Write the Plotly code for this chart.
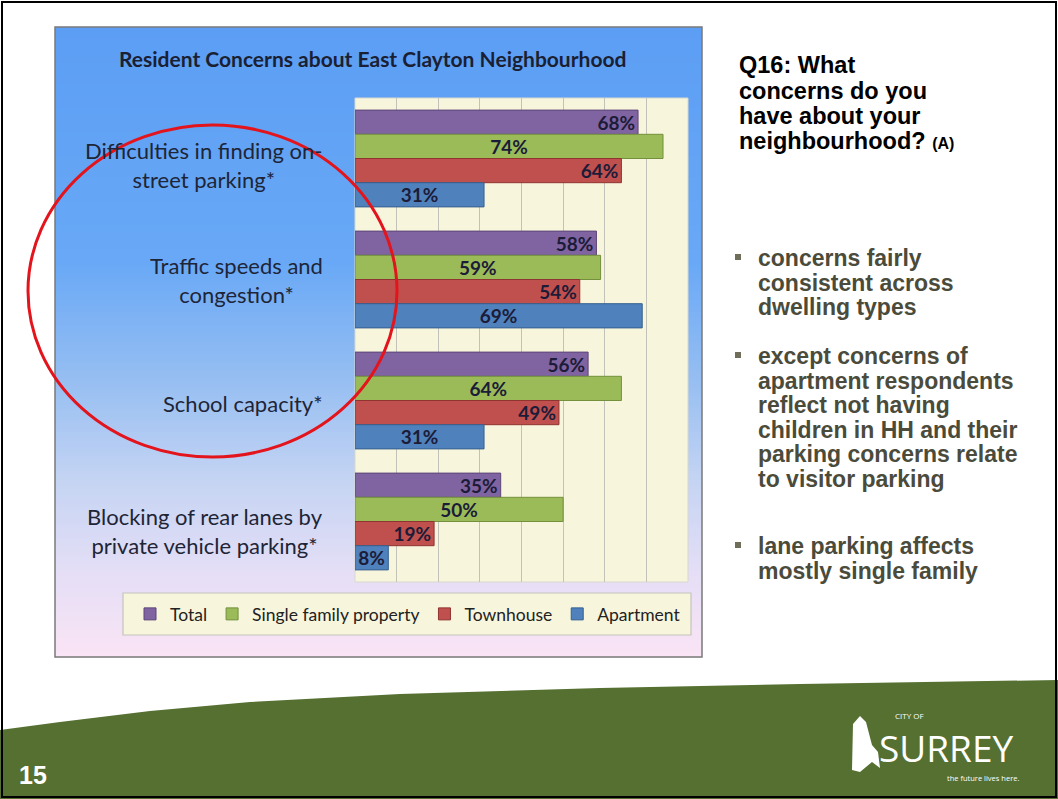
import plotly.graph_objects as go

# ---------------- data ----------------
categories = ["Difficulties in finding on-street parking*",
              "Traffic speeds and congestion*",
              "School capacity*",
              "Blocking of rear lanes by private vehicle parking*"]
category_labels = ["Difficulties in finding on-<br>street parking*",
                   "Traffic speeds and<br>congestion*",
                   "School capacity*",
                   "Blocking of rear lanes by<br>private vehicle parking*"]
series_names = ["Total", "Single family property", "Townhouse", "Apartment"]
total = [68, 58, 56, 35]
single_family = [74, 59, 64, 50]
townhouse = [64, 54, 49, 19]
apartment = [31, 69, 31, 8]
x_ticks = [0, 10, 20, 30, 40, 50, 60, 70, 80]

chart_title = "Resident Concerns about East Clayton Neighbourhood"
question_lines = ["Q16: What", "concerns do you", "have about your",
                  "neighbourhood? <span style='font-size:16px'>(A)</span>"]
bullets = [["concerns fairly", "consistent across", "dwelling types"],
           ["except concerns of", "apartment respondents", "reflect not having",
            "children in HH and their", "parking concerns relate", "to visitor parking"],
           ["lane parking affects", "mostly single family"]]
page_number = "15"

# ---------------- geometry helpers (styling only) ----------------
W, H = 1058, 799
L, R, T, B = 355, 688, 98, 582


def px(x):
    return (x - L) / (R - L)


def py(y):
    return (B - y) / (B - T)


colors = ["#8064a2", "#9bbb59", "#c0504d", "#4f81bd"]
edge = ["#5b4577", "#74903c", "#8f3431", "#36608f"]
anchors = ["end", "middle", "end", "middle"]
values = [total, single_family, townhouse, apartment]

fig = go.Figure()
for name, vals, c, e, a in zip(series_names, values, colors, edge, anchors):
    fig.add_trace(go.Bar(
        y=categories, x=vals, name=name, orientation="h",
        marker=dict(color=c, line=dict(color=e, width=1)),
        text=[f"{v}%" for v in vals], textposition="inside",
        insidetextanchor=a, constraintext="none",
        textfont=dict(family="Lato", size=19, color="#1c1c38", weight="bold"),
        hoverinfo="skip"))

shapes = []
# gradient background of the chart box
stops = [(27, (92, 158, 244)), (260, (104, 168, 246)), (380, (150, 190, 242)),
         (480, (196, 212, 243)), (570, (228, 222, 246)), (657, (250, 228, 245))]
bx0, bx1, by0, by1 = 55, 702, 27, 657


def col_at(y):
    for (y0, c0), (y1, c1) in zip(stops[:-1], stops[1:]):
        if y0 <= y <= y1:
            t = (y - y0) / (y1 - y0)
            return "rgb(%d,%d,%d)" % tuple(round(c0[i] + (c1[i] - c0[i]) * t) for i in range(3))
    return "rgb(%d,%d,%d)" % stops[-1][1]


step = 3
yy = by0
while yy < by1:
    y2 = min(yy + step, by1)
    shapes.append(dict(type="rect", xref="paper", yref="paper", layer="below",
                       x0=px(bx0), x1=px(bx1), y0=py(yy), y1=py(y2 + 0.6),
                       fillcolor=col_at(yy + step / 2), line=dict(width=0)))
    yy = y2
# box border
shapes.append(dict(type="rect", xref="paper", yref="paper", layer="below",
                   x0=px(bx0), x1=px(bx1), y0=py(by0), y1=py(by1),
                   line=dict(color="#7a7a7a", width=1.5)))
# plot area cream background
shapes.append(dict(type="rect", xref="x domain", yref="y domain", layer="below",
                   x0=0, x1=1, y0=0, y1=1, fillcolor="#f8f5dd",
                   line=dict(color="#d8d8cc", width=1)))
# legend box
shapes.append(dict(type="rect", xref="paper", yref="paper", layer="below",
                   x0=px(123), x1=px(691), y0=py(593), y1=py(635),
                   fillcolor="#f8f5dd", line=dict(color="#c4c4bc", width=1.2)))
# red ellipse
shapes.append(dict(type="circle", xref="paper", yref="paper", layer="above",
                   x0=px(28), x1=px(397), y0=py(125), y1=py(457),
                   line=dict(color="#e3141c", width=3)))
# green footer swoosh
pts = [(0, 730), (60, 722), (150, 711), (250, 702), (400, 694), (600, 688),
       (800, 684), (1058, 680), (1058, 799), (0, 799)]
path = "M " + " L ".join(f"{px(x):.5f},{py(y):.5f}" for x, y in pts) + " Z"
shapes.append(dict(type="path", xref="paper", yref="paper", layer="below",
                   path=path, fillcolor="#557031", line=dict(width=0)))
# logo icon (simple white building)
icon = [(853, 724), (860, 716), (866, 722), (872, 745), (878, 752), (880, 768),
        (872, 762), (860, 772), (852, 770)]
ipath = "M " + " L ".join(f"{px(x):.5f},{py(y):.5f}" for x, y in icon) + " Z"
shapes.append(dict(type="path", xref="paper", yref="paper", layer="above",
                   path=ipath, fillcolor="#ffffff", line=dict(width=0)))
# bullets: centers of text lines
bullet_first_centers = [258, 356, 546]
line_step = 24.6
for b in bullet_first_centers:
    shapes.append(dict(type="rect", xref="paper", yref="paper", layer="above",
                       x0=px(735), x1=px(741), y0=py(b - 4), y1=py(b + 2),
                       fillcolor="#6e6e5a", line=dict(width=0)))
# slide border
shapes.append(dict(type="rect", xref="paper", yref="paper", layer="above",
                   x0=px(2), x1=px(1056), y0=py(2), y1=py(797),
                   line=dict(color="#000000", width=2)))

ann = []
# title
ann.append(dict(text=chart_title, xref="paper", yref="paper", x=px(372), y=py(59),
                xanchor="center", yanchor="middle", showarrow=False,
                font=dict(family="Lato", size=21, color="#1a1f33", weight="bold")))
# category labels: right-aligned block, lines centred
label_offsets = [6, 0, 3, 9]
for cat, lab, off in zip(categories, category_labels, label_offsets):
    ann.append(dict(text=lab, xref="paper", yref="y", x=px(325), y=cat,
                    yshift=-off, xanchor="right", yanchor="middle", align="center",
                    showarrow=False,
                    font=dict(family="Lato", size=22, color="#1e2536")))
# question
q_centers = [65, 90.5, 116, 141.5]
for ln, cy in zip(question_lines, q_centers):
    ann.append(dict(text=ln, xref="paper", yref="paper", x=px(737), y=py(cy),
                    xanchor="left", yanchor="middle", showarrow=False,
                    font=dict(family="Liberation Sans", size=23.5, color="#000000", weight="bold")))
# bullet text
for first, lines in zip(bullet_first_centers, bullets):
    for i, ln in enumerate(lines):
        cy = first + i * line_step
        ann.append(dict(text=ln, xref="paper", yref="paper", x=px(756), y=py(cy),
                        xanchor="left", yanchor="middle", showarrow=False,
                        font=dict(family="Liberation Sans", size=23, color="#4b4b3b", weight="bold")))
# page number
ann.append(dict(text=page_number, xref="paper", yref="paper", x=px(17), y=py(775),
                xanchor="left", yanchor="middle", showarrow=False,
                font=dict(family="Liberation Sans", size=25, color="#ffffff", weight="bold")))
# logo text
ann.append(dict(text="CITY OF", xref="paper", yref="paper", x=px(893), y=py(715),
                xanchor="left", yanchor="middle", showarrow=False,
                font=dict(family="Open Sans", size=8, color="#ffffff")))
ann.append(dict(text="SURREY", xref="paper", yref="paper", x=px(877), y=py(747),
                xanchor="left", yanchor="middle", showarrow=False,
                font=dict(family="Open Sans", size=37, color="#ffffff")))
ann.append(dict(text="the future lives here.", xref="paper", yref="paper", x=px(1021), y=py(778),
                xanchor="right", yanchor="middle", showarrow=False,
                font=dict(family="Open Sans", size=7.5, color="#ffffff")))

fig.update_layout(
    width=W, height=H,
    margin=dict(l=L, r=W - R, t=T, b=H - B, pad=0),
    paper_bgcolor="#ffffff", plot_bgcolor="rgba(0,0,0,0)",
    barmode="group", bargap=0.2, bargroupgap=0,
    showlegend=True,
    legend=dict(orientation="h", x=px(130), y=py(614), xanchor="left", yanchor="middle",
                bgcolor="rgba(0,0,0,0)", font=dict(family="Lato", size=17.5, color="#222222"),
                traceorder="normal", itemwidth=30),
    xaxis=dict(range=[0, 80], tickvals=x_ticks, showticklabels=False, ticks="",
               showgrid=True, gridcolor="#c2c2b8", gridwidth=1, zeroline=False,
               showline=False, fixedrange=True),
    yaxis=dict(autorange="reversed", showticklabels=False, ticks="", showgrid=False,
               zeroline=False, showline=False, fixedrange=True),
    shapes=shapes, annotations=ann,
)

fig.write_html("out.html")
